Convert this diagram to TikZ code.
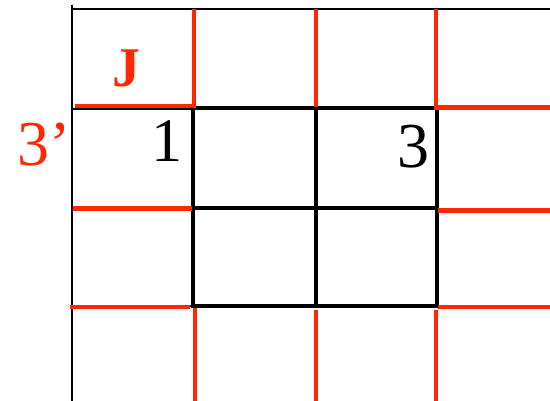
\documentclass[tikz,border=0pt]{standalone}
\usepackage{fontspec}
\setmainfont{Liberation Serif}
\definecolor{gridred}{RGB}{255,40,0}
\begin{document}
\begin{tikzpicture}[x=1pt,y=-1pt,
  thinline/.style={black,line width=1.5pt},
  thickline/.style={black,line width=4pt,line cap=rect},
  redline/.style={gridred,line width=4.5pt},
  lbl/.style={inner sep=0pt,anchor=base west}]
\useasboundingbox (0,0) rectangle (550,401);
% thin outer grid
\draw[thinline] (72,5) -- (72,401);
\draw[thinline] (72,9) -- (550,9);
\draw[thinline] (72,109) -- (193,109);
\draw[thinline] (72,207) -- (193,207);
\draw[thinline] (72,306) -- (193,306);
% thick central block
\draw[thickline] (193,108) rectangle (437,306);
\draw[thickline] (316,108) -- (316,306);
\draw[thickline] (193,208) -- (437,208);
% red lines
\draw[redline] (75,106) -- (194,106);
\draw[redline] (194,9) -- (194,108);
\draw[redline] (316,9) -- (316,107);
\draw[redline] (436,9) -- (436,107.5) -- (550,107.5);
\draw[redline] (438,210.5) -- (550,210.5);
\draw[redline] (438,307) -- (550,307);
\draw[redline] (73,208.5) -- (192,208.5);
\draw[redline] (70,307) -- (190,307);
\draw[redline] (195,308) -- (195,401);
\draw[redline] (316,310) -- (316,401);
\draw[redline] (436,310) -- (436,401);
% labels
\node[lbl,text=gridred,font=\fontsize{56}{56}\selectfont\bfseries] (J) at (112,87) {J};
\node[lbl,text=gridred,font=\fontsize{64}{64}\selectfont] (tp) at (17,166) {3’};
\node[lbl,font=\fontsize{62}{62}\selectfont] (one) at (151,162) {1};
\node[lbl,font=\fontsize{64}{64}\selectfont] (three) at (397,168) {3};
\end{tikzpicture}
\end{document}
